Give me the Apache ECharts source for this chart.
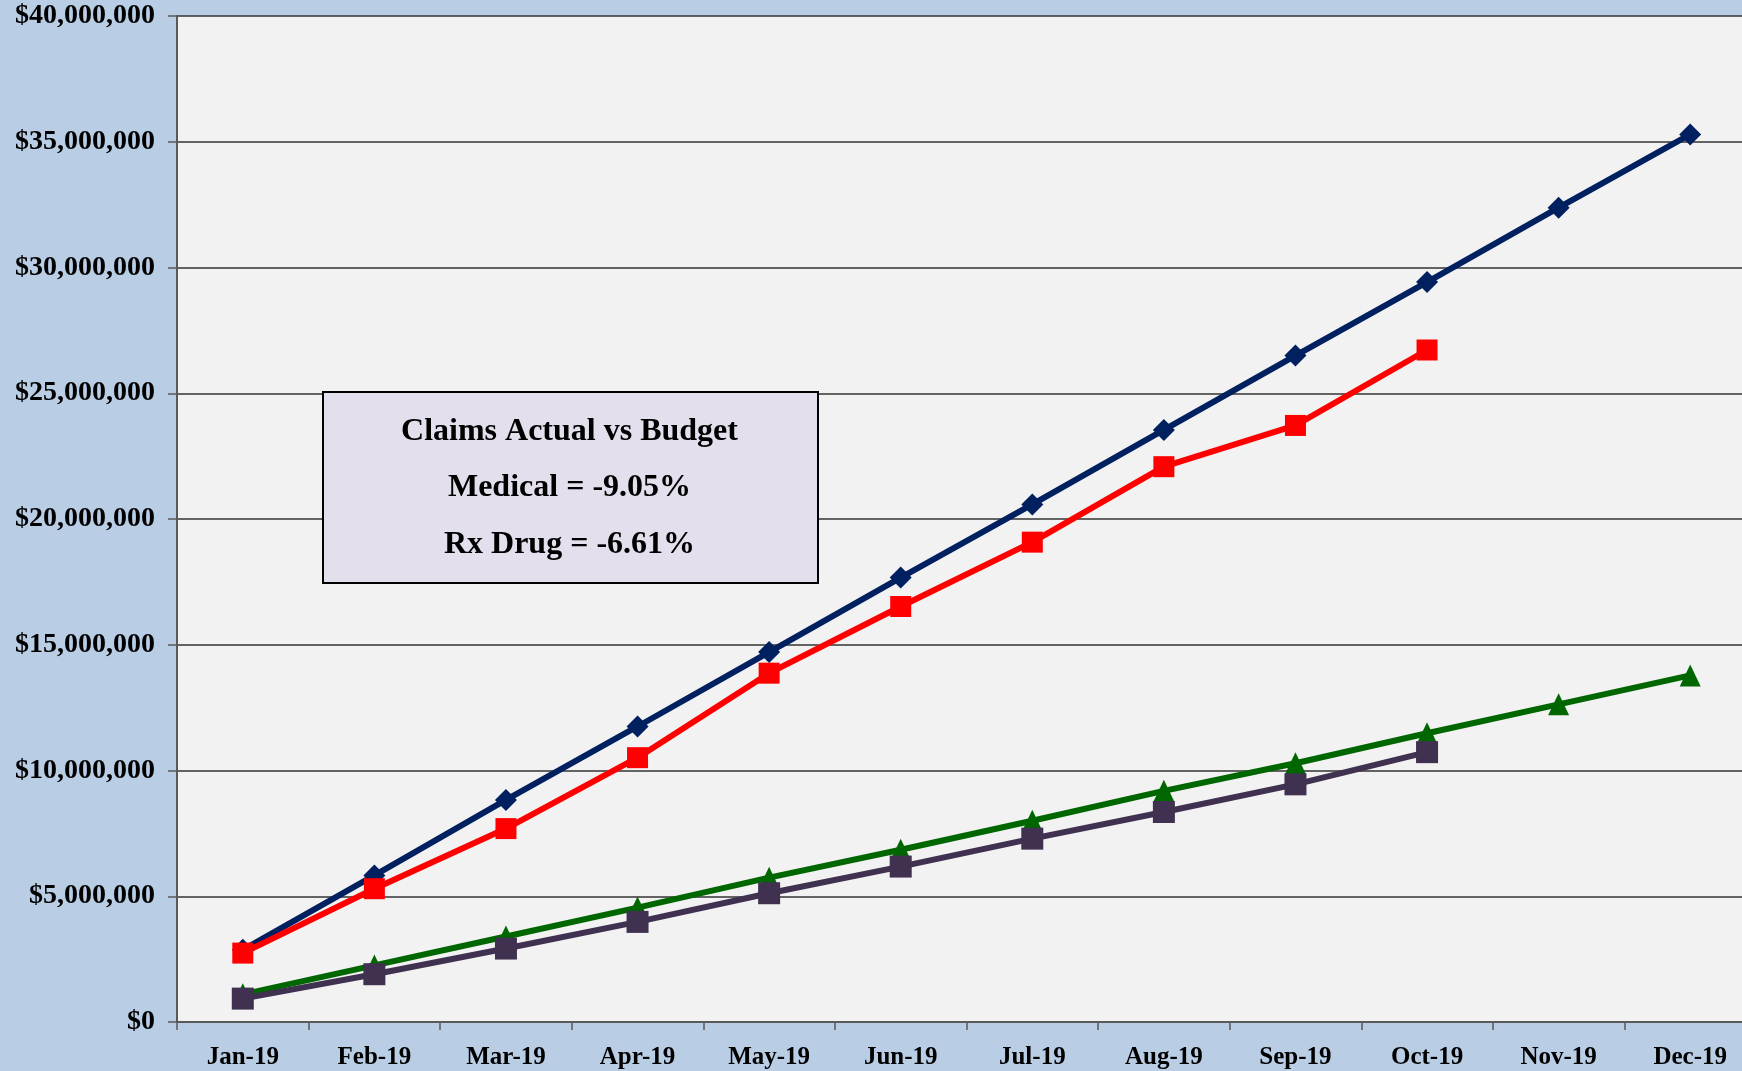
<!DOCTYPE html>
<html>
<head>
<meta charset="utf-8">
<script src="https://cdn.jsdelivr.net/npm/echarts@6/dist/echarts.min.js"></script>
<style>
html, body { margin: 0; padding: 0; background: #B9CDE5; overflow: hidden; }
#main { width: 1742px; height: 1071px; }
</style>
</head>
<body>
<div id="main"></div>
<script>
var months = ['Jan-19','Feb-19','Mar-19','Apr-19','May-19','Jun-19','Jul-19','Aug-19','Sep-19','Oct-19','Nov-19','Dec-19'];

// medical budget / actual (cumulative)
var medBudget = [2870000, 5830000, 8830000, 11750000, 14710000, 17670000, 20580000, 23540000, 26500000, 29420000, 32380000, 35290000];
var medActual = [2740000, 5300000, 7690000, 10510000, 13870000, 16520000, 19080000, 22080000, 23720000, 26720000];

// rx drug budget / actual (cumulative)
var rxBudget = [1100000, 2250000, 3400000, 4550000, 5740000, 6850000, 8000000, 9190000, 10290000, 11480000, 12630000, 13780000];
var rxActual = [930000, 1900000, 2920000, 3980000, 5120000, 6180000, 7290000, 8350000, 9450000, 10730000];

var boxLines = ['Claims Actual vs Budget', 'Medical = -9.05%', 'Rx Drug = -6.61%'];

var font = "'Liberation Serif', 'Times New Roman', serif";

function money(v) {
    return '$' + String(v).replace(/\B(?=(\d{3})+(?!\d))/g, ',');
}

var chart = echarts.init(document.getElementById('main'));
var option = {
    backgroundColor: '#B9CDE5',
    animation: false,
    grid: {
        left: 177,
        top: 16,
        width: 1579,   // plot runs slightly past the right edge
        bottom: 49,
        containLabel: false,
        outerBoundsMode: 'none',
        show: true,
        backgroundColor: '#F2F2F2',
        borderWidth: 0
    },
    xAxis: {
        type: 'category',
        data: months,
        boundaryGap: true,
        axisLine: { lineStyle: { color: '#595959', width: 2 } },
        axisTick: { show: true, length: 8, lineStyle: { color: '#595959', width: 1.5 } },
        axisLabel: {
            margin: 23,
            fontFamily: font,
            fontWeight: 'bold',
            fontSize: 25,
            color: '#000'
        },
        splitLine: { show: false }
    },
    yAxis: {
        type: 'value',
        min: 0,
        max: 40000000,
        interval: 5000000,
        axisLine: { show: true, lineStyle: { color: '#595959', width: 2 } },
        axisTick: { show: true, length: 9, lineStyle: { color: '#595959', width: 1.5 } },
        axisLabel: {
            margin: 22,
            fontFamily: font,
            fontWeight: 'bold',
            fontSize: 28,
            color: '#000',
            formatter: money
        },
        splitLine: { show: true, lineStyle: { color: '#333', width: 1.5 } }
    },
    series: [
        {
            name: 'Medical Budget',
            type: 'line',
            data: medBudget,
            symbol: 'diamond',
            symbolSize: 22,
            lineStyle: { color: '#002060', width: 6 },
            itemStyle: { color: '#002060' }
        },
        {
            name: 'Medical Actual',
            type: 'line',
            data: medActual,
            symbol: 'rect',
            symbolSize: 21,
            lineStyle: { color: '#FF0000', width: 6 },
            itemStyle: { color: '#FF0000' }
        },
        {
            name: 'Rx Budget',
            type: 'line',
            data: rxBudget,
            symbol: 'triangle',
            symbolSize: [21, 22],
            lineStyle: { color: '#006600', width: 6 },
            itemStyle: { color: '#006600' }
        },
        {
            name: 'Rx Actual',
            type: 'line',
            data: rxActual,
            symbol: 'rect',
            symbolSize: 22,
            lineStyle: { color: '#403151', width: 6 },
            itemStyle: { color: '#403151' }
        }
    ],
    graphic: [
        {
            type: 'rect',
            left: 322,
            top: 391,
            shape: { width: 495, height: 191 },
            style: { fill: '#E4DFEC', stroke: '#000', lineWidth: 2 },
            z: 100
        }
    ]
};

// the three box lines, centred in the box
var boxCx = 322 + 495 / 2;
var lineY = [432, 488, 545];
for (var i = 0; i < boxLines.length; i++) {
    option.graphic.push({
        type: 'text',
        x: boxCx,
        y: lineY[i],
        style: {
            text: boxLines[i],
            align: 'center',
            verticalAlign: 'middle',
            fontFamily: font,
            fontWeight: 'bold',
            fontSize: 32,
            fill: '#000'
        },
        z: 101
    });
}

chart.setOption(option);
</script>
</body>
</html>
